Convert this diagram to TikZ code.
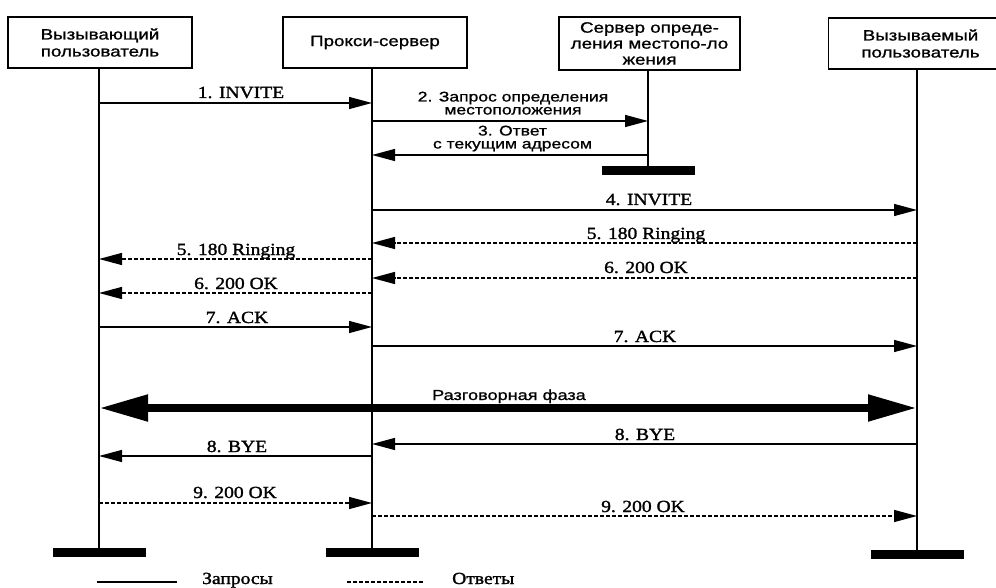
\documentclass[tikz,border=0pt]{standalone}
\usepackage{fontspec}
\setmainfont{Liberation Serif}[FakeStretch=1.15, FakeBold=1.5]
\newfontfamily\hdrfont{Liberation Sans}[FakeStretch=1.25, FakeBold=1]
\usetikzlibrary{arrows.meta}

\begin{document}
\begin{tikzpicture}[x=1pt, y=-1pt,
  party/.style={draw, line width=1.3pt, minimum width=184pt, minimum height=51pt,
    align=center, inner sep=0pt, font=\hdrfont\fontsize{15}{17}\selectfont},
  lifeline/.style={line width=1.5pt},
  endbar/.style={fill=black, draw=none, minimum width=93pt, minimum height=9pt, inner sep=0pt},
  req/.style={line width=1.3pt, -{Triangle[length=23pt, width=12pt]}},
  resp/.style={req, dash pattern=on 4pt off 2pt},
  phase/.style={line width=8pt, {Triangle[length=49pt, width=25pt]}-{Triangle[length=49pt, width=25pt]}},
  msg/.style={anchor=base, inner sep=0pt, align=center, font=\fontsize{17}{15}\selectfont},
  smsg/.style={anchor=north, inner sep=0pt, align=center, font=\hdrfont\fontsize{14}{13}\selectfont},
  legend/.style={anchor=base west, inner sep=0pt, font=\fontsize{17}{15}\selectfont}]

\useasboundingbox (0,0) rectangle (996,588);
\clip (0,0) rectangle (996,588);

% participants
\node[party] (A) at (100,42.5) {Вызывающий\\пользователь};
\node[party] (B) at (375,42.5) {Прокси-сервер};
\node[party, minimum width=181pt, minimum height=53pt, font=\hdrfont\fontsize{15}{16}\selectfont]
  (C) at (649.5,43.5) {Сервер опреде-\\ления местопо-ло\\жения};
\node[party] (D) at (920.5,43.5) {Вызываемый\\пользователь};

% end bars
\node[endbar] (Ae) at (99,552.5) {};
\node[endbar] (Be) at (372,552.5) {};
\node[endbar] (Ce) at (648,170.5) {};
\node[endbar] (De) at (917,554.5) {};

% lifelines
\draw[lifeline] (A.south -| Ae) -- (Ae.north);
\draw[lifeline] (B.south -| Be) -- (Be.north);
\draw[lifeline] (C.south -| Ce) -- (Ce.north);
\draw[lifeline] (D.south -| De) -- (De.north);

% message rows
\coordinate (r1) at (0,103);
\coordinate (r2) at (0,121);
\coordinate (r3) at (0,155);
\coordinate (r4) at (0,210);
\coordinate (r5a) at (0,243);
\coordinate (r5b) at (0,259);
\coordinate (r6a) at (0,278);
\coordinate (r6b) at (0,293);
\coordinate (r7a) at (0,327);
\coordinate (r7b) at (0,346);
\coordinate (rp) at (0,408);
\coordinate (r8a) at (0,444);
\coordinate (r8b) at (0,456);
\coordinate (r9a) at (0,503);
\coordinate (r9b) at (0,516);

% messages
\draw[req]  (Ae |- r1) -- (Be |- r1);
\node[msg] (t1) at (241,98) {1. INVITE};

\draw[req]  (Be |- r2) -- (Ce |- r2);
\node[smsg] (t2) at (513,91.5) {2. Запрос определения\\местоположения};

\draw[req]  (Ce |- r3) -- (Be |- r3);
\node[smsg] (t3) at (512.5,125.5) {3. Ответ\\с текущим адресом};

\draw[req]  (Be |- r4) -- (De |- r4);
\node[msg] (t4) at (649,205) {4. INVITE};

\draw[resp] (De |- r5a) -- (Be |- r5a);
\node[msg] (t5a) at (646,239) {5. 180 Ringing};
\draw[resp] (Be |- r5b) -- (Ae |- r5b);
\node[msg] (t5b) at (236,255) {5. 180 Ringing};

\draw[resp] (De |- r6a) -- (Be |- r6a);
\node[msg] (t6a) at (646,273) {6. 200 OK};
\draw[resp] (Be |- r6b) -- (Ae |- r6b);
\node[msg] (t6b) at (236,289) {6. 200 OK};

\draw[req]  (Ae |- r7a) -- (Be |- r7a);
\node[msg] (t7a) at (237,323) {7. ACK};
\draw[req]  (Be |- r7b) -- (De |- r7b);
\node[msg] (t7b) at (645,342) {7. ACK};

\draw[phase] (Ae |- rp) -- (De |- rp);
\node[msg, font=\hdrfont\fontsize{14.5}{15}\selectfont] (tp) at (509,400) {Разговорная фаза};

\draw[req]  (De |- r8a) -- (Be |- r8a);
\node[msg] (t8a) at (645,440) {8. BYE};
\draw[req]  (Be |- r8b) -- (Ae |- r8b);
\node[msg] (t8b) at (237,452) {8. BYE};

\draw[resp] (Ae |- r9a) -- (Be |- r9a);
\node[msg] (t9a) at (235,498) {9. 200 OK};
\draw[resp] (Be |- r9b) -- (De |- r9b);
\node[msg] (t9b) at (643,512) {9. 200 OK};

% legend
\coordinate (ls1) at (97,582);
\coordinate (ls2) at (177,582);
\coordinate (ld1) at (347,582);
\coordinate (ld2) at (424,582);
\draw[line width=1.3pt] (ls1) -- (ls2);
\draw[line width=1.3pt, dash pattern=on 4pt off 2pt] (ld1) -- (ld2);
\node[legend] (lq) at (202,584) {Запросы};
\node[legend] (la) at (452,584) {Ответы};
\end{tikzpicture}
\end{document}
